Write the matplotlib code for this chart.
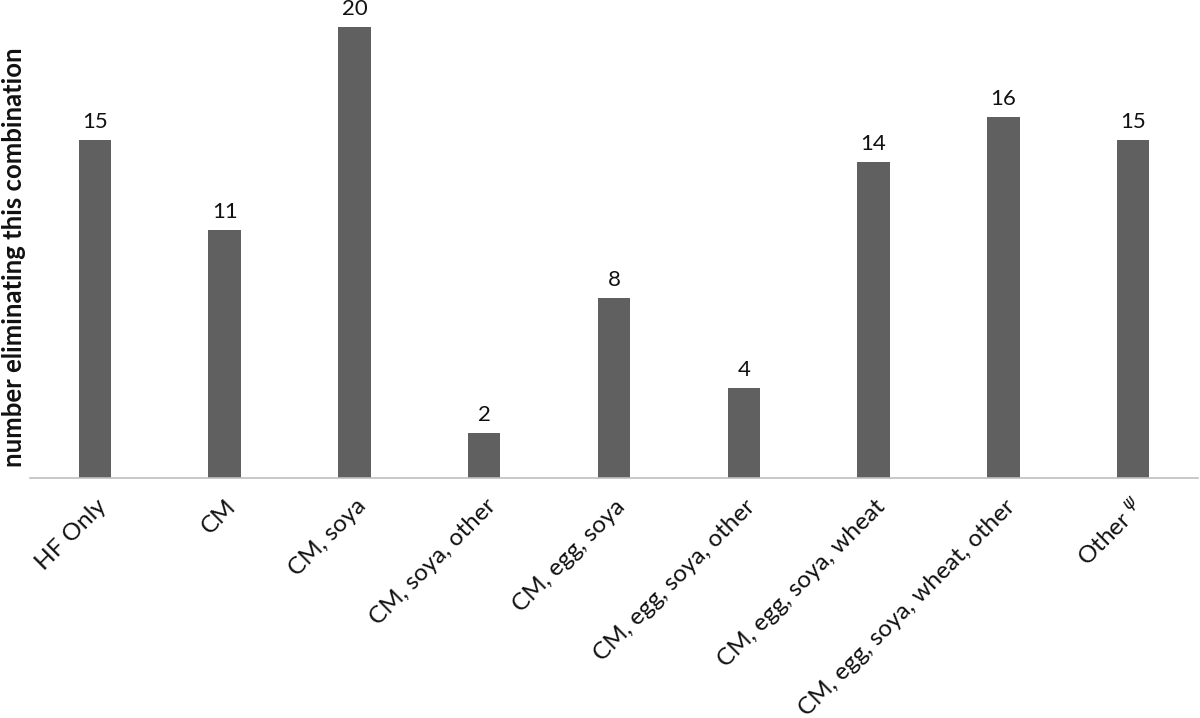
import matplotlib
matplotlib.use("Agg")
import matplotlib.pyplot as plt
import matplotlib.transforms as mtransforms

categories = ["HF Only", "CM", "CM, soya", "CM, soya, other", "CM, egg, soya",
              "CM, egg, soya, other", "CM, egg, soya, wheat",
              "CM, egg, soya, wheat, other", "Other $^{\\psi}$"]
values = [15, 11, 20, 2, 8, 4, 14, 16, 15]
ylabel = "number eliminating this combination"

plt.rcParams['font.family'] = ['Lato', 'DejaVu Sans']

fig = plt.figure(figsize=(12, 7.18), dpi=100)
ax = fig.add_axes([0.025, 0.3343, 0.9733, 0.628])

x = range(len(categories))
bars = ax.bar(x, values, width=0.25, color="#606060")
for xi, v in zip(x, values):
    ax.text(xi, v + 0.35, str(v), ha="center", va="bottom", fontsize=16,
            color="#111111", clip_on=False)

ax.set_xlim(-0.5, len(categories) - 0.5)
ax.set_ylim(0, 20)
for s in ["top", "right", "left"]:
    ax.spines[s].set_visible(False)
ax.spines["bottom"].set_color("#bfbfbf")
ax.spines["bottom"].set_linewidth(1.2)
ax.set_yticks([])
ax.tick_params(axis="x", length=0, pad=18)
ax.set_xticks(list(x))
ax.set_xticklabels(categories, rotation=45, ha="right", va="center",
                   rotation_mode="anchor", fontsize=17.5, color="#111111")
offset = mtransforms.ScaledTranslation(8 / 100, 0, fig.dpi_scale_trans)
for lbl in ax.get_xticklabels():
    lbl.set_transform(lbl.get_transform() + offset)

fig.text(14 / 1200, 1 - 257 / 718, ylabel, rotation=90, ha="center", va="center",
         fontsize=18.5, fontweight="bold", color="#111111")

fig.savefig("out.png", dpi=100, facecolor="white")
